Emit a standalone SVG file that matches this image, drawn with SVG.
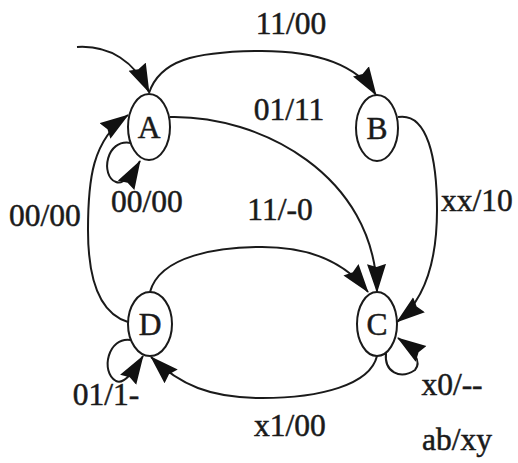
<svg xmlns="http://www.w3.org/2000/svg" width="518" height="463" viewBox="0 0 518 463">
<defs>
<style>
.n{fill:#fff;stroke:#1a1a1a;stroke-width:2}
.c{fill:none;stroke:#1a1a1a;stroke-width:2}
text{font-family:"Liberation Serif","Times New Roman",serif;font-size:31.5px;fill:#1a1a1a;stroke:#1a1a1a;stroke-width:0.5;text-anchor:middle}
</style>
<marker id="ah" markerUnits="userSpaceOnUse" markerWidth="29" markerHeight="20" viewBox="0 0 29 20" refX="28" refY="10" orient="auto">
<path d="M0,0.5 L29,10 L0,19.5 L3,10 Z" fill="#111"/>
</marker>
</defs>
<rect width="518" height="463" fill="#fff"/>
<g id="connectors">
<path class="c" d="M77,47 C110,45 135,62 149,92" marker-end="url(#ah)"/>
<path class="c" d="M149,93 C160,60 195,52 255,51 C310,50 355,62 376,95" marker-end="url(#ah)"/>
<path class="c" d="M170,117 C260,115 375,175 377,292" marker-end="url(#ah)"/>
<path class="c" d="M398,117 C428,112 437,160 437,210 C437,260 425,300 397,322" marker-end="url(#ah)"/>
<path class="c" d="M128,322 C95,312 88,270 88,230 C88,180 92,140 128,115" marker-end="url(#ah)"/>
<path class="c" d="M131,143 C106,138 100,176 116,182 C124,185 132,175 140,161" marker-end="url(#ah)"/>
<path class="c" d="M150,292 C160,255 220,247 262,247 C310,247 345,262 368,292" marker-end="url(#ah)"/>
<path class="c" d="M377,356 C370,385 320,398 262,398 C210,398 180,385 151,357" marker-end="url(#ah)"/>
<path class="c" d="M131,340 C108,336 100,372 116,381 C124,385 133,372 143,356" marker-end="url(#ah)"/>
<path class="c" d="M386,353 C384,372 400,380 415,370 C422,362 414,349 398,338" marker-end="url(#ah)"/>
</g>
<g id="A"><ellipse class="n" cx="149" cy="127" rx="21" ry="33"/><text x="149" y="138">A</text></g>
<g id="B"><ellipse class="n" cx="377" cy="128" rx="21" ry="33"/><text x="377" y="139">B</text></g>
<g id="C"><ellipse class="n" cx="377" cy="324" rx="20" ry="32"/><text x="377" y="335">C</text></g>
<g id="D"><ellipse class="n" cx="150" cy="324" rx="22" ry="32"/><text x="150" y="335">D</text></g>
<g id="labels">
<text x="291" y="34">11/00</text>
<text x="289" y="120">01/11</text>
<text x="280" y="220">11/-0</text>
<text x="45" y="226">00/00</text>
<text x="147" y="212">00/00</text>
<text x="477" y="211">xx/10</text>
<text x="106" y="405">01/1-</text>
<text x="452" y="395">x0/--</text>
<text x="290" y="436">x1/00</text>
<text x="457" y="450">ab/xy</text>
</g>
</svg>
